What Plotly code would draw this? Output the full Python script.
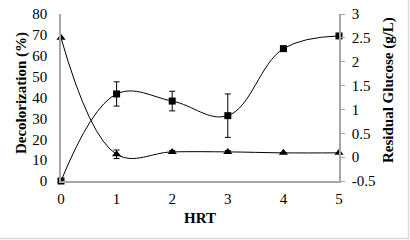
import plotly.graph_objects as go

hrt = [0, 1, 2, 3, 4, 5]
decolorization = [0, 41.7, 38.3, 31.3, 63.4, 69.5]
decolorization_err = [0, 5.8, 4.7, 10.4, 0, 0]
glucose = [2.5, 0.06, 0.11, 0.11, 0.09, 0.09]
glucose_err = [0, 0.09, 0.03, 0.03, 0, 0]

x_ticks = [0, 1, 2, 3, 4, 5]
y1_ticks = [0, 10, 20, 30, 40, 50, 60, 70, 80]
y2_ticks = [-0.5, 0, 0.5, 1, 1.5, 2, 2.5, 3]
y2_ticktext = ["-0.5", "0", "0.5", "1", "1.5", "2", "2.5", "3"]

font_family = "Liberation Serif, Times New Roman, serif"

fig = go.Figure()
fig.add_trace(go.Scatter(
    x=hrt, y=decolorization, mode="lines+markers",
    line=dict(color="black", width=1, shape="spline", smoothing=1.1),
    marker=dict(symbol="square", size=7, color="black"),
    error_y=dict(type="data", array=decolorization_err, visible=True,
                 color="black", thickness=1, width=3),
    yaxis="y", showlegend=False, cliponaxis=False,
))
fig.add_trace(go.Scatter(
    x=hrt, y=glucose, mode="lines+markers",
    line=dict(color="black", width=1, shape="spline", smoothing=1.1),
    marker=dict(symbol="triangle-up", size=8, color="black"),
    error_y=dict(type="data", array=glucose_err, visible=True,
                 color="black", thickness=1, width=3),
    yaxis="y2", showlegend=False, cliponaxis=False,
))

title_font = dict(family=font_family, size=15, color="black")

fig.update_layout(
    width=410, height=240,
    margin=dict(l=61, r=71, t=14, b=59, autoexpand=False),
    paper_bgcolor="white", plot_bgcolor="white",
    font=dict(family=font_family, size=15, color="black"),
    xaxis=dict(
        range=[0, 5], tickvals=x_ticks, showgrid=False, zeroline=False,
        showline=True, linecolor="#a6a6a6", linewidth=1.5, ticks="",
        tickfont=dict(size=15), ticklabelstandoff=3,
    ),
    yaxis=dict(
        range=[0, 80], tickvals=y1_ticks, showgrid=False, zeroline=False,
        showline=True, linecolor="#a6a6a6", linewidth=1.5, ticks="",
        tickfont=dict(size=15), ticklabelstandoff=9,
    ),
    yaxis2=dict(
        range=[-0.5, 3], tickvals=y2_ticks, ticktext=y2_ticktext,
        overlaying="y", side="right",
        showgrid=False, zeroline=False, showline=True, linecolor="#a6a6a6",
        linewidth=1.5, ticks="outside", ticklen=4, tickcolor="#a6a6a6",
        tickfont=dict(size=15), ticklabelstandoff=4,
    ),
    annotations=[
        dict(text="<b>Decolorization (%)</b>", xref="paper", yref="paper",
             x=-0.140, y=0.527, textangle=-90, showarrow=False, font=title_font,
             xanchor="center", yanchor="middle"),
        dict(text="<b>Residual Glucose (g/L)</b>", xref="paper", yref="paper",
             x=1.180, y=0.545, textangle=-90, showarrow=False, font=title_font,
             xanchor="center", yanchor="middle"),
        dict(text="<b>HRT</b>", xref="paper", yref="paper",
             x=0.5, y=-0.222, showarrow=False, font=title_font,
             xanchor="center", yanchor="middle"),
    ],
    shapes=[
        dict(type="line", xref="paper", yref="paper", x0=1.25, x1=1.25,
             y0=-0.35, y1=1.09, line=dict(color="#d9d9d9", width=1.5)),
        dict(type="line", xref="paper", yref="paper", x0=-0.22, x1=1.25,
             y0=-0.344, y1=-0.344, line=dict(color="#d9d9d9", width=1.5)),
    ],
)

fig.write_html(
    "out.html",
    config={"displayModeBar": False},
    post_script="document.body.style.margin='0';document.body.style.padding='0';document.body.style.overflow='hidden';",
)
